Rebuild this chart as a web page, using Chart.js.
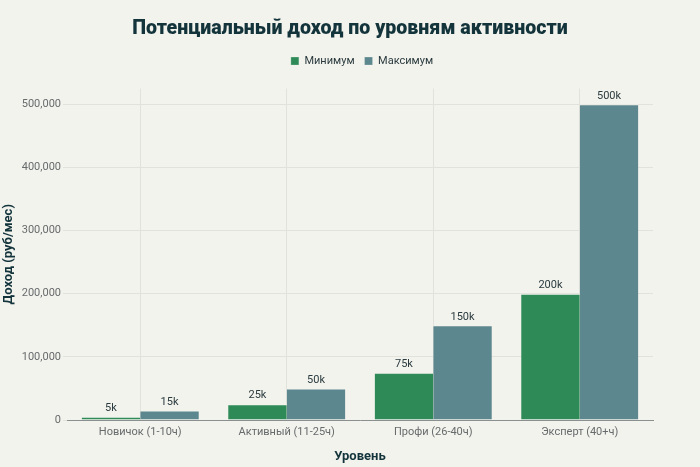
<!DOCTYPE html>
<html>
<head>
<meta charset="utf-8">
<script src="https://cdn.jsdelivr.net/npm/chart.js@4"></script>
<style>
  html, body { margin: 0; padding: 0; background: #f3f3ee; }
  #wrap { width: 700px; height: 467px; }
</style>
</head>
<body>
<div id="wrap"><canvas id="incomeChart"></canvas></div>
<script>
// Chart data
const levels = ['Новичок (1-10ч)', 'Активный (11-25ч)', 'Профи (26-40ч)', 'Эксперт (40+ч)'];
const minIncome = [5000, 25000, 75000, 200000];
const maxIncome = [15000, 50000, 150000, 500000];
const minLabels = ['5k', '25k', '75k', '200k'];
const maxLabels = ['15k', '50k', '150k', '500k'];
const yTicks = [0, 100000, 200000, 300000, 400000, 500000];

const textDark = '#13343b';
const textGray = '#676b6c';
const gridColor = '#e2e2dc';
const baseFont = 'Roboto, sans-serif';

// Draw value labels above each bar
const valueLabels = {
  id: 'valueLabels',
  afterDatasetsDraw(chart) {
    const ctx = chart.ctx;
    ctx.save();
    ctx.font = '11px ' + baseFont;
    ctx.fillStyle = '#2a3a3e';
    ctx.textAlign = 'center';
    ctx.textBaseline = 'bottom';
    chart.data.datasets.forEach((ds, i) => {
      chart.getDatasetMeta(i).data.forEach((bar, j) => {
        ctx.fillText(ds.valueText[j], bar.x, bar.y - 3);
      });
    });
    ctx.restore();
  }
};

// Give the legend a fixed height so the plot starts lower,
// and nudge it a bit to the right like in the original
const legendSpace = {
  id: 'legendSpace',
  afterInit(chart) {
    const fit = chart.legend.fit;
    chart.legend.fit = function () {
      fit.bind(chart.legend)();
      this.height = 43;
    };
  },
  afterLayout(chart) {
    chart.legend.left += 12;
    chart.legend.right += 12;
  }
};

new Chart(document.getElementById('incomeChart'), {
  type: 'bar',
  data: {
    labels: levels,
    datasets: [
      {
        label: 'Минимум',
        data: minIncome,
        valueText: minLabels,
        backgroundColor: '#2e8b57',
        borderColor: '#f3f3ee',
        borderWidth: { top: 1, left: 0, right: 0, bottom: 0 },
        categoryPercentage: 0.8,
        barPercentage: 1.0
      },
      {
        label: 'Максимум',
        data: maxIncome,
        valueText: maxLabels,
        backgroundColor: '#5d878e',
        borderColor: '#f3f3ee',
        borderWidth: { top: 1, left: 0, right: 0, bottom: 0 },
        categoryPercentage: 0.8,
        barPercentage: 1.0
      }
    ]
  },
  options: {
    responsive: true,
    maintainAspectRatio: false,
    animation: false,
    layout: { padding: 0 },
    plugins: {
      title: {
        display: true,
        text: 'Потенциальный доход по уровням активности',
        color: textDark,
        font: { family: baseFont, size: 19.6, weight: '900' },
        padding: { top: 17, bottom: 5 }
      },
      legend: {
        labels: {
          boxWidth: 8,
          boxHeight: 8,
          color: '#2a3a3e',
          font: { family: baseFont, size: 11 },
          padding: 10
        }
      },
      tooltip: { enabled: false }
    },
    scales: {
      x: {
        afterFit(scale) { scale.height = 47; },
        grid: { color: gridColor, offset: false, drawTicks: false },
        border: { color: '#8a8f90' },
        ticks: { color: textGray, font: { family: baseFont, size: 11 }, padding: 6 },
        title: {
          display: true,
          text: 'Уровень',
          color: textDark,
          font: { family: baseFont, size: 13, weight: 'bold' },
          padding: { top: 0, bottom: 2 }
        }
      },
      y: {
        min: 0,
        max: 525000,
        afterFit(scale) { scale.width = 67; },
        grid: { color: gridColor, tickLength: 4, tickColor: gridColor },
        border: { display: false },
        afterBuildTicks(scale) {
          scale.ticks = yTicks.map(v => ({ value: v }));
        },
        ticks: {
          color: textGray,
          font: { family: baseFont, size: 11 },
          padding: 2,
          callback: v => Number(v).toLocaleString('en-US')
        },
        title: {
          display: true,
          text: 'Доход (руб/мес)',
          color: textDark,
          font: { family: baseFont, size: 13, weight: 'bold' },
          padding: { top: 1, bottom: 0 }
        }
      },
      // empty axis that only reserves the right margin
      yRight: {
        position: 'right',
        afterFit(scale) { scale.width = 47; },
        grid: { display: false },
        border: { display: false },
        ticks: { display: false }
      }
    }
  },
  plugins: [valueLabels, legendSpace]
});
</script>
</body>
</html>
